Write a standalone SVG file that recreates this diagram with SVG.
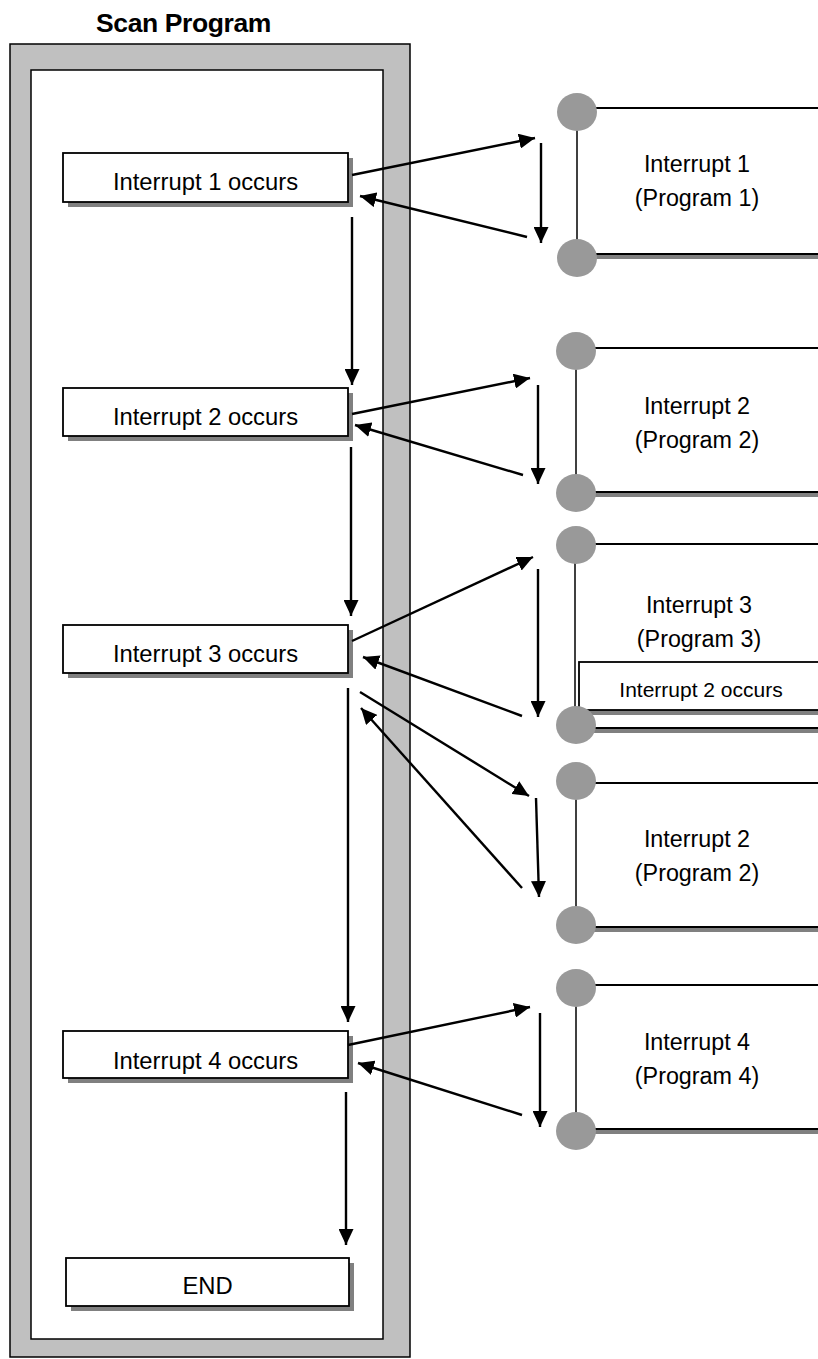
<svg xmlns="http://www.w3.org/2000/svg" width="818" height="1359" viewBox="0 0 818 1359">
  <style>
    .frame { fill: #c0c0c0; stroke: #000; stroke-width: 1.5; }
    .inner { fill: #fff; stroke: #000; stroke-width: 1.5; }
    .box { fill: #fff; stroke: #000; stroke-width: 1.8; }
    .shadow { fill: #808080; }
    .edge { stroke: #000; stroke-width: 2; fill: none; }
    .rail { stroke: #000; stroke-width: 1.5; }
    .knob { fill: #999; }
    .t { font-family: "Liberation Sans", Arial, sans-serif; font-size: 23.8px; fill: #000; text-anchor: middle; }
    .tn { font-family: "Liberation Sans", Arial, sans-serif; font-size: 23.3px; fill: #000; text-anchor: middle; }
    .ts { font-family: "Liberation Sans", Arial, sans-serif; font-size: 21px; fill: #000; text-anchor: middle; }
    .title { font-family: "Liberation Sans", Arial, sans-serif; font-size: 26.5px; font-weight: bold; fill: #000; text-anchor: middle; letter-spacing: -0.4px; }
    .conn { stroke: #000; stroke-width: 2.4; fill: none; marker-end: url(#head); }
  </style>
  <defs>
    <marker id="head" markerUnits="userSpaceOnUse" markerWidth="17" markerHeight="15" refX="16" refY="7.5" orient="auto">
      <path d="M0,0 L16,7.5 L0,15 Z" fill="#000"/>
    </marker>
  </defs>
  <rect width="818" height="1359" fill="#fff"/>

  <!-- scan program frame -->
  <g id="scan-program">
    <text class="title" x="183.5" y="32">Scan Program</text>
    <rect class="frame" x="10" y="44" width="400" height="1313"/>
    <rect class="inner" x="31" y="70" width="352" height="1269"/>
  </g>

  <!-- interrupt event boxes in the scan -->
  <g id="occ1">
    <rect class="shadow" x="68" y="158" width="285" height="49"/>
    <rect class="box" x="63" y="153" width="285" height="49"/>
    <text class="t" x="205.5" y="190">Interrupt 1 occurs</text>
  </g>
  <g id="occ2">
    <rect class="shadow" x="68" y="393" width="285" height="48"/>
    <rect class="box" x="63" y="388" width="285" height="48"/>
    <text class="t" x="205.5" y="425">Interrupt 2 occurs</text>
  </g>
  <g id="occ3">
    <rect class="shadow" x="68" y="630" width="285" height="48"/>
    <rect class="box" x="63" y="625" width="285" height="48"/>
    <text class="t" x="205.5" y="662">Interrupt 3 occurs</text>
  </g>
  <g id="occ4">
    <rect class="shadow" x="68" y="1036" width="285" height="47"/>
    <rect class="box" x="63" y="1031" width="285" height="47"/>
    <text class="t" x="205.5" y="1069">Interrupt 4 occurs</text>
  </g>
  <g id="end">
    <rect class="shadow" x="71" y="1263" width="283" height="48"/>
    <rect class="box" x="66" y="1258" width="283" height="48"/>
    <text class="t" x="207.5" y="1294">END</text>
  </g>

  <!-- interrupt programs -->
  <g id="prog1">
    <rect class="shadow" x="577" y="254" width="250" height="5"/>
    <line class="edge" x1="577" y1="108" x2="830" y2="108"/>
    <line class="edge" x1="577" y1="254" x2="830" y2="254"/>
    <line class="rail" x1="577" y1="112" x2="577" y2="258"/>
    <ellipse class="knob" cx="577" cy="112" rx="20" ry="19"/>
    <ellipse class="knob" cx="577" cy="258" rx="20" ry="19"/>
    <text class="tn" x="697" y="172">Interrupt 1</text>
    <text class="tn" x="697" y="206">(Program 1)</text>
  </g>
  <g id="prog2">
    <rect class="shadow" x="576" y="492" width="250" height="5"/>
    <line class="edge" x1="576" y1="348" x2="830" y2="348"/>
    <line class="edge" x1="576" y1="492" x2="830" y2="492"/>
    <line class="rail" x1="576" y1="351" x2="576" y2="493"/>
    <ellipse class="knob" cx="576" cy="351" rx="20" ry="19"/>
    <ellipse class="knob" cx="576" cy="493" rx="20" ry="19"/>
    <text class="tn" x="697" y="414">Interrupt 2</text>
    <text class="tn" x="697" y="448">(Program 2)</text>
  </g>
  <g id="prog3">
    <rect class="shadow" x="576" y="728" width="250" height="5"/>
    <line class="edge" x1="576" y1="544" x2="830" y2="544"/>
    <line class="edge" x1="576" y1="728" x2="830" y2="728"/>
    <line class="rail" x1="575" y1="545" x2="575" y2="725"/>
    <text class="tn" x="699" y="613">Interrupt 3</text>
    <text class="tn" x="699" y="647">(Program 3)</text>
    <g id="nested-occ2">
      <rect class="shadow" x="584" y="710" width="250" height="5"/>
      <rect class="box" x="579" y="662" width="260" height="48"/>
      <text class="ts" x="701" y="697">Interrupt 2 occurs</text>
    </g>
    <ellipse class="knob" cx="576" cy="545" rx="20" ry="19"/>
    <ellipse class="knob" cx="576" cy="725" rx="20" ry="19"/>
  </g>
  <g id="prog2b">
    <rect class="shadow" x="576" y="927" width="250" height="5"/>
    <line class="edge" x1="576" y1="783" x2="830" y2="783"/>
    <line class="edge" x1="576" y1="927" x2="830" y2="927"/>
    <line class="rail" x1="576" y1="781" x2="576" y2="925"/>
    <ellipse class="knob" cx="576" cy="781" rx="20" ry="19"/>
    <ellipse class="knob" cx="576" cy="925" rx="20" ry="19"/>
    <text class="tn" x="697" y="847">Interrupt 2</text>
    <text class="tn" x="697" y="881">(Program 2)</text>
  </g>
  <g id="prog4">
    <rect class="shadow" x="576" y="1129" width="250" height="5"/>
    <line class="edge" x1="576" y1="985" x2="830" y2="985"/>
    <line class="edge" x1="576" y1="1129" x2="830" y2="1129"/>
    <line class="rail" x1="576" y1="988" x2="576" y2="1131"/>
    <ellipse class="knob" cx="576" cy="988" rx="20" ry="19"/>
    <ellipse class="knob" cx="576" cy="1131" rx="20" ry="19"/>
    <text class="tn" x="697" y="1050">Interrupt 4</text>
    <text class="tn" x="697" y="1084">(Program 4)</text>
  </g>

  <!-- flow arrows -->
  <g id="connectors">
    <line class="conn" x1="352" y1="217" x2="352" y2="385"/>
    <line class="conn" x1="351" y1="447" x2="351" y2="616"/>
    <line class="conn" x1="348" y1="688" x2="348" y2="1022"/>
    <line class="conn" x1="346" y1="1092" x2="346" y2="1245"/>

    <line class="conn" x1="352" y1="175" x2="535" y2="138"/>
    <line class="conn" x1="541" y1="143" x2="541" y2="243"/>
    <line class="conn" x1="527" y1="237" x2="360" y2="196"/>

    <line class="conn" x1="352" y1="414" x2="530" y2="378"/>
    <line class="conn" x1="538" y1="385" x2="538" y2="484"/>
    <line class="conn" x1="523" y1="475" x2="355" y2="425"/>

    <line class="conn" x1="352" y1="641" x2="533" y2="557"/>
    <line class="conn" x1="538" y1="569" x2="538" y2="717"/>
    <line class="conn" x1="522" y1="716" x2="363" y2="657"/>

    <line class="conn" x1="360" y1="692" x2="529" y2="796"/>
    <line class="conn" x1="536" y1="798" x2="539" y2="897"/>
    <line class="conn" x1="522" y1="888" x2="361" y2="708"/>

    <line class="conn" x1="348" y1="1045" x2="530" y2="1007"/>
    <line class="conn" x1="540" y1="1013" x2="540" y2="1127"/>
    <line class="conn" x1="522" y1="1115" x2="358" y2="1063"/>
  </g>
</svg>
